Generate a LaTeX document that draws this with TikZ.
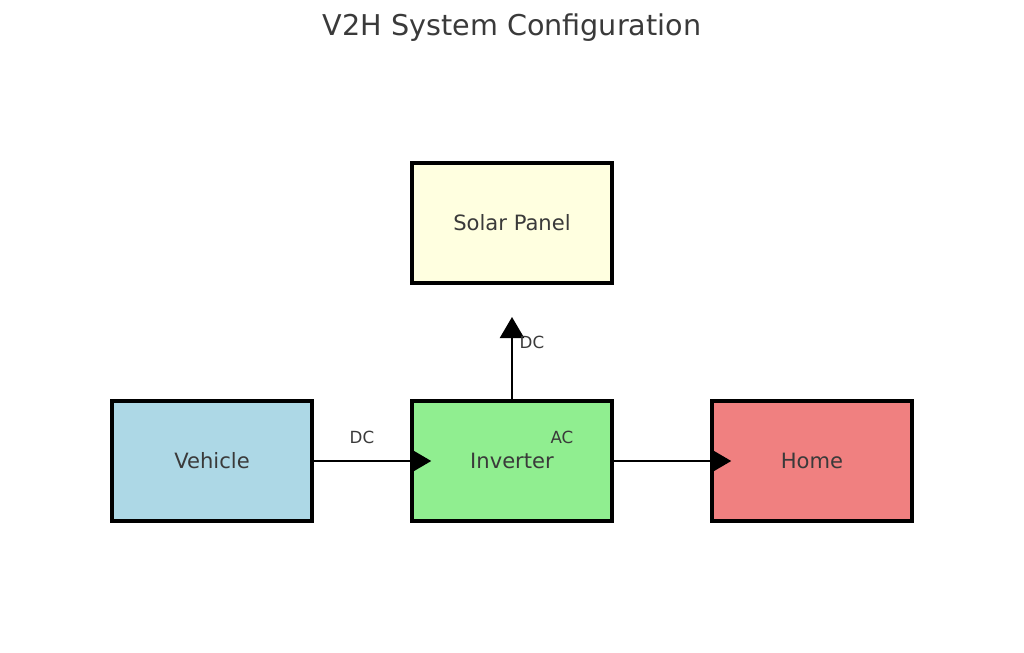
\documentclass[tikz,border=0pt]{standalone}
\usepackage{fontspec}
\setmainfont{DejaVu Sans}
\usepackage{xcolor}
\usepackage{tikz}
\usetikzlibrary{arrows.meta}

\definecolor{textgray}{HTML}{3A3A3A}
\definecolor{vehiclebg}{HTML}{ADD8E6}
\definecolor{inverterbg}{HTML}{90EE90}
\definecolor{homebg}{HTML}{F08080}
\definecolor{solarbg}{HTML}{FFFFE0}

\begin{document}
\begin{tikzpicture}[x=0.2mm,y=-0.2mm]
        \def\boxfont{\fontsize{12}{14}\selectfont}
        \def\smallfont{\fontsize{9.5}{11}\selectfont}

        \tikzset{unit/.style={
           draw=black,
           line width=2pt,
           minimum width=40mm,
           minimum height=24mm,
           inner sep=0pt,
           text=textgray,
           font=\boxfont
        }}
        \tikzset{flow/.style={
           line width=1.3pt,
           -{Triangle[length=4.2mm,width=4.8mm]}
        }}
        \tikzset{tag/.style={
           text=textgray,
           font=\smallfont,
           inner sep=0pt
        }}

        \useasboundingbox (0,0) rectangle (1024,653);

        % Title
        \node[text=textgray,font=\fontsize{16.3}{19}\selectfont] (title) at (512,28) {V2H System Configuration};

        % Boxes
        \node[unit, fill=solarbg] (solar) at (512,223) {Solar Panel};
        \node[unit, fill=vehiclebg] (vehicle) at (212,461) {Vehicle};
        \node[unit, fill=inverterbg] (inverter) at (512,461) {Inverter};
        \node[unit, fill=homebg] (home) at (812,461) {Home};

        % Lines
        \coordinate (dctip) at (512,317);
        \draw[flow, shorten >=-4.2mm] (vehicle.east) -- (inverter.west);
        \draw[flow, shorten >=-4.2mm] (inverter.east) -- (home.west);
        \draw[flow] (inverter.north) -- (dctip);

        % Labels
        \node[tag] (dcin) at (362,437) {DC};
        \node[tag] (acout) at (562,437) {AC};
        \node[tag] (dcup) at (532,342) {DC};
\end{tikzpicture}
\end{document}
